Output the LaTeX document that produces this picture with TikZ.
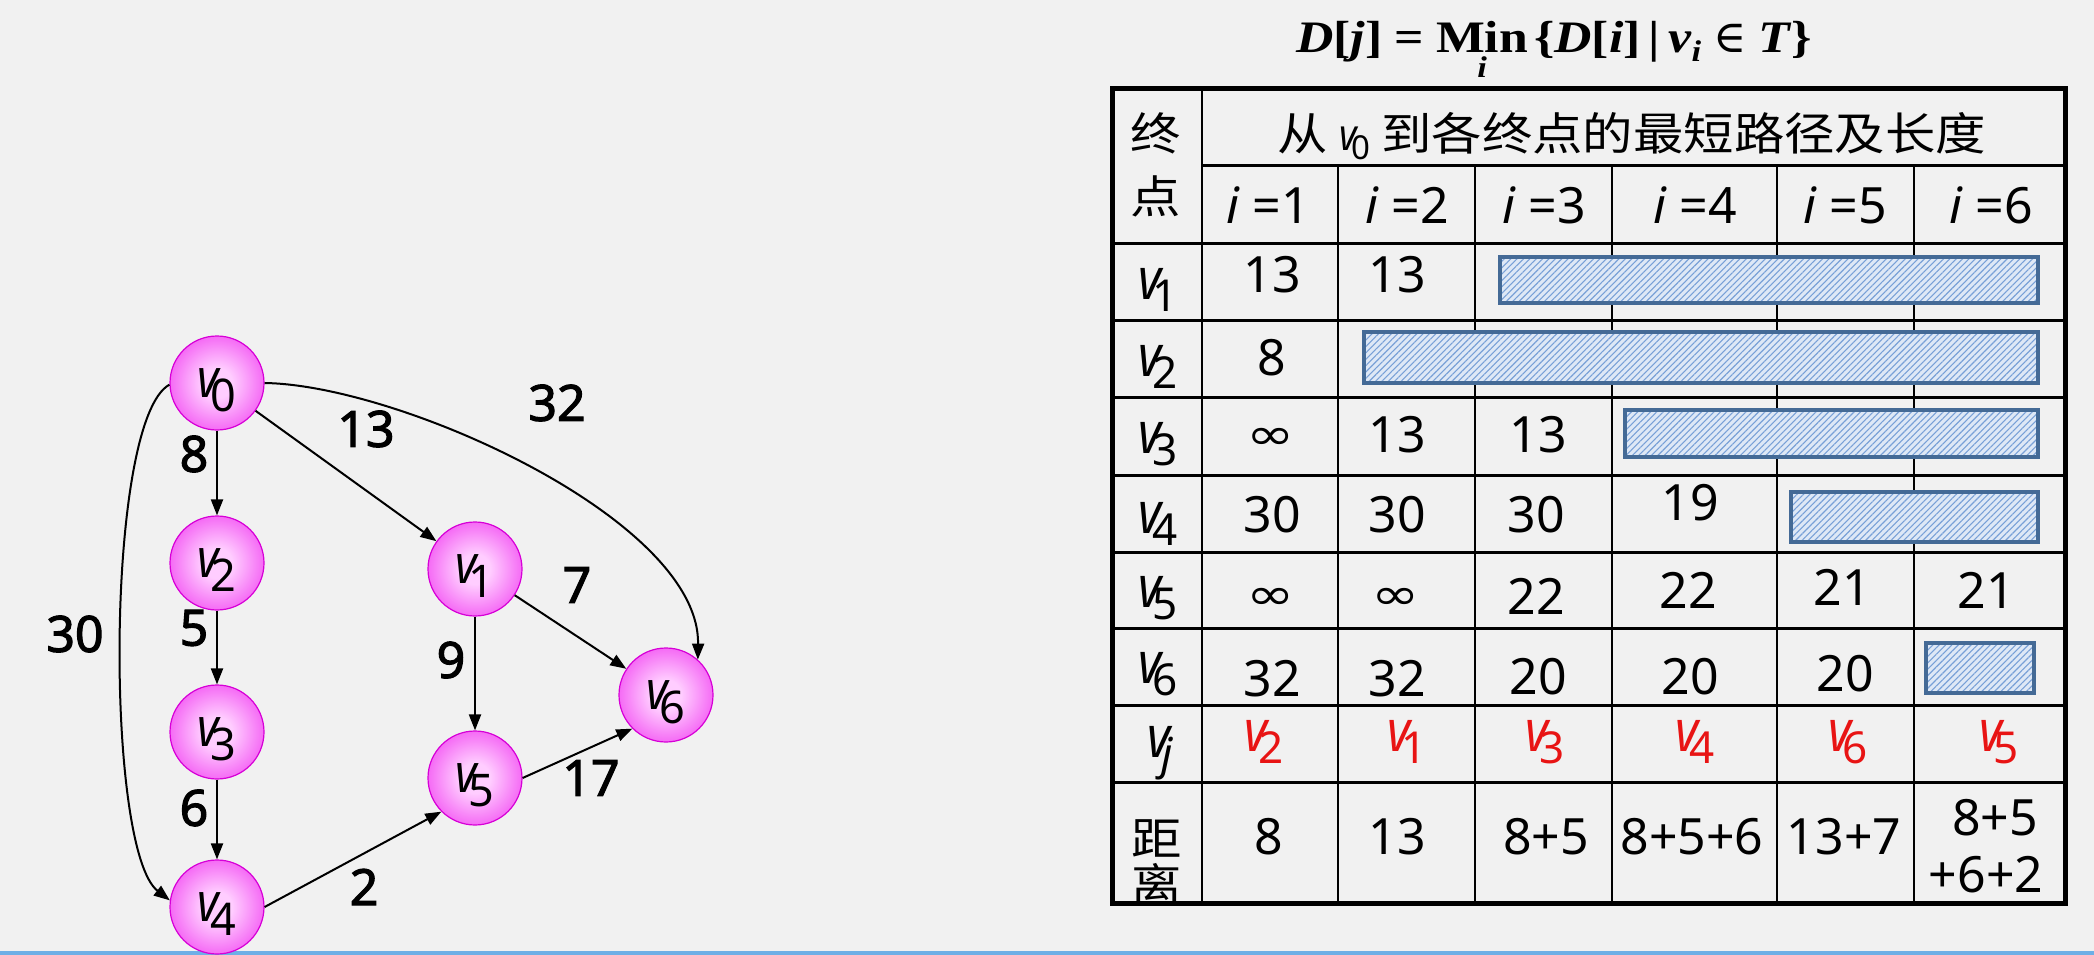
\documentclass[tikz,border=0pt]{standalone}
\usepackage{fontspec}
\usepackage{graphicx}
\usetikzlibrary{arrows.meta,patterns.meta}
\setmainfont{Noto Sans}
\newfontfamily\cjkf[FakeStretch=1.12]{Noto Sans CJK SC}
\newfontfamily\tmsf[FakeStretch=1.15]{Liberation Serif}
\newfontfamily\djs{DejaVu Serif}
\newfontfamily\djsans{DejaVu Sans}
\newfontfamily\nsbold[FakeBold=2.2]{Noto Sans}
\newfontfamily\vnarrow[FakeStretch=0.85]{Noto Sans}

\definecolor{bg}{RGB}{241,241,241}
\definecolor{magin}{RGB}{255,205,255}
\definecolor{magout}{RGB}{236,20,236}
\definecolor{magedge}{RGB}{215,0,215}
\definecolor{barfill}{RGB}{222,232,246}
\definecolor{barhatch}{RGB}{120,160,215}
\definecolor{baredge}{RGB}{68,106,150}
\definecolor{vred}{RGB}{232,20,20}
\definecolor{winblue}{RGB}{110,175,230}

\pgfdeclareradialshading{magball}{\pgfpoint{0bp}{0bp}}{color(0bp)=(magin); color(8bp)=(magin); color(40bp)=(magout); color(50bp)=(magout)}

% graph vertex label
\newcommand\gv[1]{{\vnarrow\itshape\fontsize{54}{54}\selectfont v}\kern-8pt\raisebox{-14pt}[0pt][0pt]{\rmfamily\upshape\fontsize{45}{45}\selectfont #1}}
% table vertex label
\newcommand\tv[1]{{\vnarrow\itshape\fontsize{58}{58}\selectfont v}\kern-9pt\raisebox{-12pt}[0pt][0pt]{\rmfamily\upshape\fontsize{44}{44}\selectfont #1}}
% header vertex label
\newcommand\hv[1]{{\vnarrow\itshape\fontsize{44}{44}\selectfont v}\kern-6pt\raisebox{-9pt}[0pt][0pt]{\rmfamily\upshape\fontsize{33}{33}\selectfont #1}}
\newcommand\infy{\scalebox{1}[0.75]{\djsans\fontsize{58}{58}\selectfont ∞}}
\newcommand\minop{\begin{tabular}[t]{@{}c@{}}Min\\[-20pt]\fontsize{30}{30}\selectfont\textit{i}\end{tabular}}

\begin{document}
\begin{tikzpicture}[x=1pt,y=-1pt,
  gnode/.style={circle,minimum size=94pt,inner sep=0pt,shading=magball,draw=magedge,line width=1.2pt},
  elab/.style={font=\nsbold\fontsize{50}{50}\selectfont,inner sep=0pt},
  arr/.style={line width=2pt,-{Triangle[length=16pt,width=12pt]}},
  tnum/.style={font=\fontsize{50}{50}\selectfont,inner sep=0pt},
  tcjk/.style={font=\cjkf\fontsize{45}{45}\selectfont,inner sep=0pt},
  tvl/.style={inner sep=0pt},
  redv/.style={inner sep=0pt,text=vred},
  hline/.style={line width=3pt},
  vline/.style={line width=2.5pt},
  outerb/.style={line width=5pt},
  bar/.style={preaction={fill=barfill},pattern={Lines[angle=45,distance=4.5pt,line width=1.1pt]},pattern color=barhatch,draw=baredge,line width=4pt}
]
\useasboundingbox (0,0) rectangle (2094,955);
\fill[bg] (0,0) rectangle (2094,955);
\fill[winblue] (0,951) rectangle (2094,955);

% ---------- graph ----------
\node[gnode] (v0) at (217,383) {\gv{0}};
\node[gnode] (v2) at (217,563) {\gv{2}};
\node[gnode] (v3) at (217,732) {\gv{3}};
\node[gnode] (v4) at (217,907) {\gv{4}};
\node[gnode] (v1) at (475,569) {\gv{1}};
\node[gnode] (v5) at (475,778) {\gv{5}};
\node[gnode] (v6) at (666,695) {\gv{6}};

\draw[arr] (v0) -- (v2);
\draw[arr] (v2) -- (v3);
\draw[arr] (v3) -- (v4);
\draw[arr] (v0) -- (v1);
\draw[arr] (v1) -- (v5);
\draw[arr] (v1) -- (v6);
\draw[arr] (v5.east) -- (v6.south west);
\draw[arr] (v4.east) -- (v5.south west);
\draw[arr] (v0.182) .. controls (105,420) and (105,850) .. (v4.172);
\draw[arr] (v0.east) .. controls (400,385) and (700,520) .. (v6.48);

\node[elab] (w02) at (194,454) {8};
\node[elab] (w01) at (366,429) {13};
\node[elab] (w06) at (557,403) {32};
\node[elab] (w04) at (75,634) {30};
\node[elab] (w23) at (194,628) {5};
\node[elab] (w34) at (194,808) {6};
\node[elab] (w15) at (451,660) {9};
\node[elab] (w16) at (577,585) {7};
\node[elab] (w56) at (591,778) {17};
\node[elab] (w45) at (364,887) {2};

% ---------- formula ----------
\node[anchor=base west,inner sep=0pt,font=\tmsf\bfseries\fontsize{45}{45}\selectfont] (formula) at (1296,53)
  {\textit{D}[\textit{j}]\hspace{12pt}=\hspace{12pt}\minop\hspace{6pt}\{\textit{D}[\textit{i}]\hspace{8pt}|\hspace{8pt}\textit{v}\raisebox{-9pt}{\fontsize{30}{30}\selectfont\textit{i}}\hspace{12pt}{\djs\mdseries ∈}\hspace{12pt}\textit{T}\}};

% ---------- table grid ----------
\draw[hline] (1202,166) -- (2065,166);
\foreach \yy in {243,320,397,475,552,628,705,782}
  \draw[hline] (1112,\yy) -- (2065,\yy);
\draw[vline] (1202,89) -- (1202,903);
\foreach \xx in {1338,1475,1612,1777,1914}
  \draw[vline] (\xx,166) -- (\xx,903);

% hatched bars
\draw[bar] (1500,257) rectangle (2038,303);
\draw[bar] (1364,332) rectangle (2038,383);
\draw[bar] (1625,410) rectangle (2038,457);
\draw[bar] (1791,492) rectangle (2038,542);
\draw[bar] (1926,643) rectangle (2034,693);

% header
\node[tcjk] (hz) at (1156,133.5) {终};
\node[tcjk] (hd) at (1156,196.5) {点};
\node[tcjk] (htitle) at (1632,133.5) {从 \hv{0} 到各终点的最短路径及长度};
\node[tnum] (i1) at (1268,205) {\textit{i} =1};
\node[tnum] (i2) at (1407,205) {\textit{i} =2};
\node[tnum] (i3) at (1544,205) {\textit{i} =3};
\node[tnum] (i4) at (1695,205) {\textit{i} =4};
\node[tnum] (i5) at (1845,205) {\textit{i} =5};
\node[tnum] (i6) at (1991,205) {\textit{i} =6};

% row labels
\node[tvl] (r1) at (1158,284) {\tv{1}};
\node[tvl] (r2) at (1158,361) {\tv{2}};
\node[tvl] (r3) at (1158,437.5) {\tv{3}};
\node[tvl] (r4) at (1158,518) {\tv{4}};
\node[tvl] (r5) at (1158,592) {\tv{5}};
\node[tvl] (r6) at (1158,668) {\tv{6}};
\node[tvl] (rj) at (1160,742) {\tv{\itshape j}};

% v1 row
\node[tnum] (a11) at (1272,274.5) {13};
\node[tnum] (a12) at (1397,274.5) {13};
% v2 row
\node[tnum] (a21) at (1272,357.5) {8};
% v3 row
\node[tnum] (a31) at (1271,438.5) {\infy};
\node[tnum] (a32) at (1397,435) {13};
\node[tnum] (a33) at (1538,435) {13};
% v4 row
\node[tnum] (a41) at (1272,515) {30};
\node[tnum] (a42) at (1397,515) {30};
\node[tnum] (a43) at (1536,515) {30};
\node[tnum] (a44) at (1690,502.5) {19};
% v5 row
\node[tnum] (a51) at (1271,599) {\infy};
\node[tnum] (a52) at (1396,599) {\infy};
\node[tnum] (a53) at (1536,596) {22};
\node[tnum] (a54) at (1688,590.5) {22};
\node[tnum] (a55) at (1842,587.5) {21};
\node[tnum] (a56) at (1986,590.5) {21};
% v6 row
\node[tnum] (a61) at (1272,678.5) {32};
\node[tnum] (a62) at (1397,678.5) {32};
\node[tnum] (a63) at (1538,677) {20};
\node[tnum] (a64) at (1690,677) {20};
\node[tnum] (a65) at (1845,673.5) {20};

% vj row
\node[redv] (j1) at (1264,736) {\tv{2}};
\node[redv] (j2) at (1407,736) {\tv{1}};
\node[redv] (j3) at (1545,736) {\tv{3}};
\node[redv] (j4) at (1695,736) {\tv{4}};
\node[redv] (j5) at (1848,736) {\tv{6}};
\node[redv] (j6) at (1999,736) {\tv{5}};

% distance row
\node[tcjk] (dj) at (1157,838) {距};
\begin{scope}
  \clip (1112,782) rectangle (1202,901);
  \node[tcjk] (dl) at (1157,884) {离};
\end{scope}
\node[tnum] (d1) at (1269,836.5) {8};
\node[tnum] (d2) at (1397,836.5) {13};
\node[tnum] (d3) at (1546,836.5) {8+5};
\node[tnum] (d4) at (1692,836.5) {8+5+6};
\node[tnum] (d5) at (1844,836.5) {13+7};
\node[tnum] (d6a) at (1995,817.5) {8+5};
\node[tnum] (d6b) at (1986,875) {+6+2};

\draw[outerb] (1112,89) rectangle (2065,903);
\end{tikzpicture}
\end{document}
